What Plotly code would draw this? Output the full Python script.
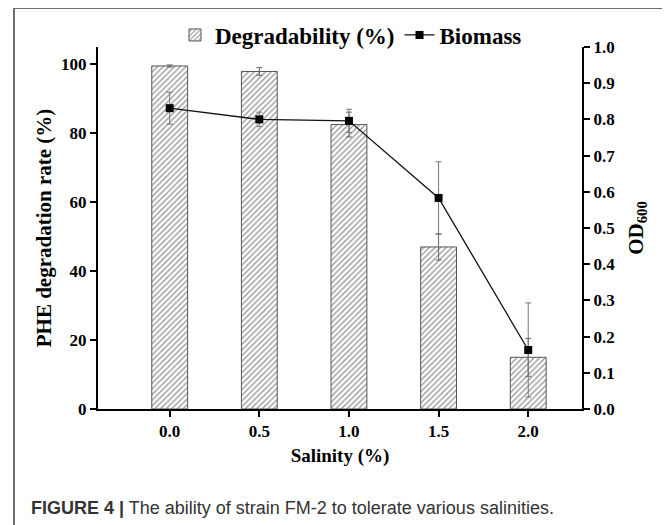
import plotly.graph_objects as go

salinity = [0.0, 0.5, 1.0, 1.5, 2.0]
tick_labels = ["0.0", "0.5", "1.0", "1.5", "2.0"]
degradability = [99.5, 97.9, 82.5, 47.0, 15.0]
degradability_err = [0.3, 1.1, 3.6, 3.8, 5.5]
biomass = [0.831, 0.800, 0.796, 0.583, 0.163]
biomass_err = [0.044, 0.020, 0.032, 0.100, 0.130]
left_ticks = [0, 20, 40, 60, 80, 100]
right_ticks = [0.0, 0.1, 0.2, 0.3, 0.4, 0.5, 0.6, 0.7, 0.8, 0.9, 1.0]

# page body has an 8px margin, so the figure is placed at (8, 8)
OFF = 8
W, H = 670 - OFF, 525 - OFF
L, R, T, B = 98 - OFF, 582 - OFF, 47 - OFF, 409 - OFF

def px(x):
    return (x - OFF - L) / (R - L)

def py(y):
    return (B - (y - OFF)) / (B - T)

serif = "Liberation Serif"
tickfont = dict(family=serif, size=17, color="black", weight="bold")

fig = go.Figure()
fig.add_trace(go.Bar(
    x=salinity, y=degradability, width=0.2, name="Degradability (%)",
    marker=dict(color="white", line=dict(color="#555555", width=1),
                pattern=dict(shape="/", fgcolor="#333333", bgcolor="white", size=4, solidity=0.35)),
    error_y=dict(type="data", array=degradability_err, color="#666666", thickness=1, width=3),
    yaxis="y",
))
fig.add_trace(go.Scatter(
    x=salinity, y=biomass, name="Biomass", mode="lines+markers",
    line=dict(color="#111111", width=1.3),
    marker=dict(symbol="square", size=8, color="black"),
    error_y=dict(type="data", array=biomass_err, color="#777777", thickness=1, width=3),
    yaxis="y2",
))

axis_common = dict(showline=True, linecolor="black", linewidth=2, ticks="outside",
                   ticklen=6, tickwidth=2, tickcolor="black", showgrid=False,
                   zeroline=False, tickfont=tickfont, automargin=False)

fig.update_layout(
    width=W, height=H,
    margin=dict(l=L, r=W - R, t=T, b=H - B, autoexpand=False),
    paper_bgcolor="white", plot_bgcolor="white",
    font=dict(family=serif, color="black", size=16),
    showlegend=True,
    legend=dict(orientation="h", x=px(351), y=py(35), xanchor="center", yanchor="middle",
                font=dict(family=serif, size=23, color="black", weight="bold"),
                bgcolor="rgba(0,0,0,0)", traceorder="normal"),
    xaxis=dict(range=[-0.4, 2.3], tickvals=salinity, ticktext=tick_labels,
               title=dict(text="Salinity (%)", font=dict(family=serif, size=19, weight="bold"), standoff=8),
               **axis_common),
    yaxis=dict(range=[0, 105], tickvals=left_ticks,
               title=dict(text="PHE degradation rate (%)", font=dict(family=serif, size=21, weight="bold"), standoff=4),
               **axis_common),
    yaxis2=dict(range=[0, 1.0], overlaying="y", side="right", tickvals=right_ticks, tickformat=".1f",
                title=dict(text="OD<sub>600</sub>", font=dict(family=serif, size=21, weight="bold"), standoff=14),
                **axis_common),
    shapes=[dict(type="rect", xref="paper", yref="paper", x0=px(14), x1=px(668), y0=py(545), y1=py(8),
                 line=dict(color="#6e6e6e", width=2), layer="below")],
    annotations=[dict(text="<b>FIGURE 4 |</b> The ability of strain FM-2 to tolerate various salinities.",
                      xref="paper", yref="paper", x=px(29), y=py(508), xanchor="left", yanchor="middle",
                      showarrow=False, font=dict(family="Liberation Sans", size=18, color="#333333"))],
)

fig.write_html("out.html")
